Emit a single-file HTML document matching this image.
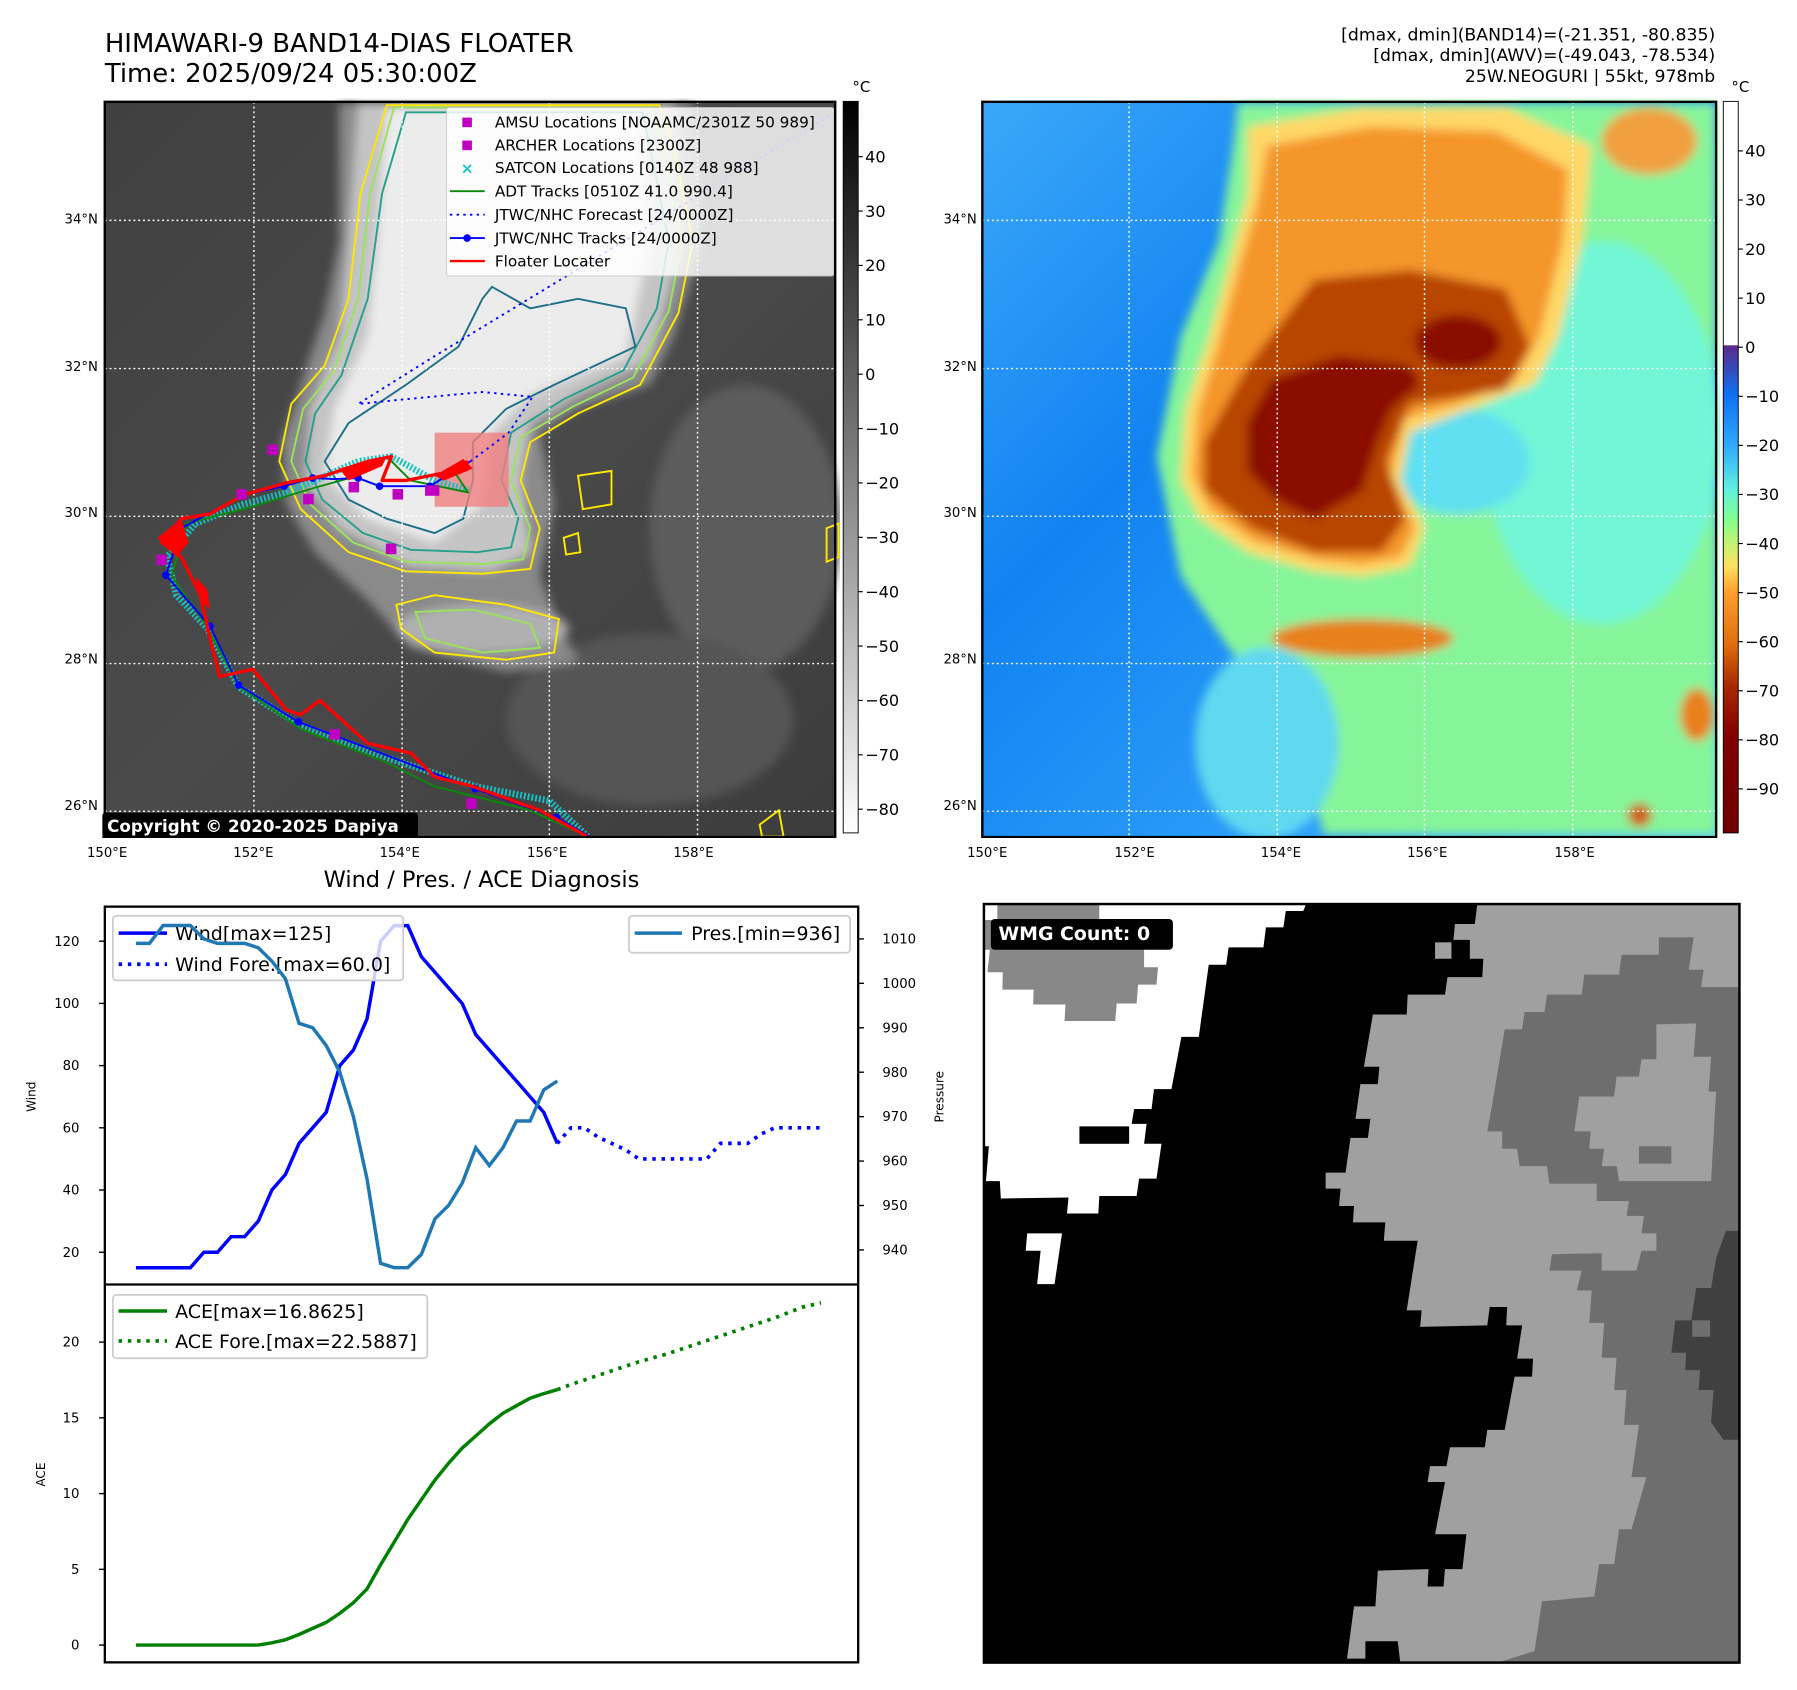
<!DOCTYPE html>
<html><head><meta charset="utf-8"><title>HIMAWARI-9 BAND14-DIAS FLOATER</title>
<style>html,body{margin:0;padding:0;background:#fff;}svg{display:block;font-family:"DejaVu Sans","Liberation Sans",sans-serif;}</style>
</head><body>
<svg id="root" width="1797" height="1690" viewBox="0 0 1560 1467" preserveAspectRatio="none" xmlns="http://www.w3.org/2000/svg">
<defs>
<filter id="blur8" x="-10%" y="-10%" width="120%" height="120%"><feGaussianBlur stdDeviation="10"/></filter>
<linearGradient id="grayBar" x1="0" y1="0" x2="0" y2="1"><stop offset="0" stop-color="#000"/><stop offset="1" stop-color="#fff"/></linearGradient>
<linearGradient id="jetBar" x1="0" y1="0" x2="0" y2="1">
<stop offset="0" stop-color="#fff"/><stop offset="0.333" stop-color="#fff"/><stop offset="0.334" stop-color="#5a2a8a"/>
<stop offset="0.37" stop-color="#3050c0"/><stop offset="0.40" stop-color="#1070f0"/><stop offset="0.47" stop-color="#30a8ff"/>
<stop offset="0.53" stop-color="#60f0e0"/><stop offset="0.57" stop-color="#80ff90"/><stop offset="0.61" stop-color="#d0f070"/>
<stop offset="0.635" stop-color="#ffe060"/><stop offset="0.67" stop-color="#ffa030"/><stop offset="0.74" stop-color="#e07010"/>
<stop offset="0.80" stop-color="#a82800"/><stop offset="0.87" stop-color="#800000"/><stop offset="1" stop-color="#700000"/></linearGradient>
<linearGradient id="blueBg" x1="0" y1="0" x2="1" y2="1"><stop offset="0" stop-color="#3aa8f8"/><stop offset="0.35" stop-color="#1282f2"/><stop offset="0.7" stop-color="#2c9ef8"/><stop offset="1" stop-color="#58cdf8"/></linearGradient>
<linearGradient id="grayBg" x1="0" y1="0" x2="1" y2="1"><stop offset="0" stop-color="#404040"/><stop offset="0.5" stop-color="#4a4a4a"/><stop offset="1" stop-color="#3c3c3c"/></linearGradient>
</defs>

<text x="91" y="45" font-size="22.5">HIMAWARI-9 BAND14-DIAS FLOATER</text>
<text x="91" y="71" font-size="22.5">Time: 2025/09/24 05:30:00Z</text>
<g font-size="15" text-anchor="end">
<text x="1489" y="35">[dmax, dmin](BAND14)=(-21.351, -80.835)</text>
<text x="1489" y="53">[dmax, dmin](AWV)=(-49.043, -78.534)</text>
<text x="1489" y="71">25W.NEOGURI | 55kt, 978mb</text>
</g>

<svg x="86.8" y="85.07" width="642.4" height="642.4" viewBox="0 0 1548 1548">
<rect x="10" y="8" width="1528" height="1538" fill="url(#grayBg)"/>
<g filter="url(#blur8)">
<ellipse cx="1350" cy="900" rx="200" ry="300" fill="#5c5c5c"/>
<ellipse cx="1150" cy="1300" rx="300" ry="180" fill="#555"/>
<polygon fill="#8a8a8a" points="500,10 1240,10 1260,300 1200,500 1150,600 1000,650 920,700 950,850 920,1000 960,1100 1000,1180 850,1200 650,1150 560,1050 450,950 390,850 380,720 420,600 470,450 500,300"/>
<polygon fill="#c4c4c4" points="540,10 1200,10 1220,300 1150,550 1000,620 900,680 880,800 900,950 820,990 650,980 500,900 430,800 440,650 500,500 520,300"/>
<polygon fill="#ececec" points="600,20 1130,20 1150,300 1100,540 900,620 820,700 800,850 700,930 560,880 470,790 490,650 560,500 580,300"/>
<ellipse cx="800" cy="1110" rx="180" ry="50" fill="#b0b0b0"/>
</g>
<g fill="none" stroke-width="4">
<polygon stroke="#ffe800" points="600,15 545,200 520,420 470,560 400,640 375,760 420,860 520,950 640,990 800,995 900,985 920,900 880,800 900,720 1000,660 1130,600 1210,450 1240,300 1200,100 1170,15"/>
<polygon stroke="#9be35a" points="615,20 565,200 540,420 490,570 425,650 400,760 440,850 530,930 640,970 800,975 885,965 900,900 860,800 880,710 990,645 1115,585 1190,445 1218,300 1180,100 1155,20"/>
<polygon stroke="#26a08c" points="640,30 590,200 560,420 505,580 450,660 430,760 465,840 550,910 650,945 790,950 860,940 875,880 840,800 860,700 970,630 1095,570 1165,440 1190,300 1150,100 1135,30"/>
<polygon stroke="#1d6f8a" points="470,760 520,680 640,600 750,520 800,420 820,395 900,440 1000,420 1100,440 1120,520 950,600 850,650 780,720 780,800 760,880 700,910 600,880 520,840"/>
<polygon stroke="#ffe800" points="620,1060 700,1040 850,1060 960,1090 950,1160 850,1175 700,1160 630,1110"/>
<polygon stroke="#9be35a" points="660,1075 780,1070 900,1100 920,1150 800,1160 680,1130"/>
<polygon stroke="#ffe800" points="1000,790 1070,780 1070,850 1010,860"/>
<polygon stroke="#ffe800" points="970,920 1000,910 1005,950 975,955"/>
<polygon stroke="#ffe800" points="1520,900 1545,890 1545,960 1520,970"/>
<polygon stroke="#ffe800" points="1380,1520 1420,1490 1430,1545 1385,1545"/>
</g>
<g stroke="#fff" stroke-width="3" stroke-dasharray="4,6" fill="none">
<line x1="322" y1="8" x2="322" y2="1546"/><line x1="632" y1="8" x2="632" y2="1546"/><line x1="940" y1="8" x2="940" y2="1546"/><line x1="1250" y1="8" x2="1250" y2="1546"/>
<line x1="10" y1="256" x2="1538" y2="256"/><line x1="10" y1="566" x2="1538" y2="566"/><line x1="10" y1="875" x2="1538" y2="875"/><line x1="10" y1="1183" x2="1538" y2="1183"/><line x1="10" y1="1492" x2="1538" y2="1492"/>
</g>
<rect x="700" y="700" width="155" height="155" fill="#f08080" opacity="0.8"/>
<g fill="none" stroke-linejoin="round">
<polyline stroke="#17c0c0" stroke-width="14" stroke-dasharray="4,4" points="1020,1545 940,1470 785,1440 600,1380 415,1310 290,1232 225,1110 160,1040 140,960 200,890 300,850 390,825 450,800 540,760 610,750 700,800 770,820"/>
<polyline stroke="#0a8a0a" stroke-width="4" points="1020,1545 900,1490 700,1440 600,1390 420,1320 290,1230 220,1100 150,1000 180,890 300,860 450,815 540,790 600,750 650,800 770,825 740,780"/>
<polyline stroke="#0000ff" stroke-width="4" points="1025,1545 955,1505 785,1445 600,1375 415,1305 290,1228 230,1105 138,998 170,900 300,830 385,812 445,795 490,797 540,795 585,812 690,812 775,760"/>
<g fill="#0000ff"><circle cx="955" cy="1505" r="8"/><circle cx="785" cy="1445" r="8"/><circle cx="415" cy="1305" r="8"/><circle cx="290" cy="1228" r="8"/><circle cx="230" cy="1105" r="8"/><circle cx="138" cy="998" r="8"/><circle cx="385" cy="812" r="8"/><circle cx="445" cy="795" r="8"/><circle cx="540" cy="795" r="8"/><circle cx="585" cy="812" r="8"/><circle cx="690" cy="812" r="8"/></g>
<polyline stroke="#0000ff" stroke-width="4" stroke-dasharray="5,9" points="775,760 855,700 905,625 800,615 640,630 540,640 700,540 980,370 1545,25"/>
<polyline stroke="#ff0000" stroke-width="7" points="1020,1545 920,1490 780,1440 700,1420 650,1370 560,1350 460,1260 420,1290 390,1280 320,1195 250,1210 230,1130 210,1040 170,960 130,930 170,880 230,870 300,830 390,805 470,790 560,760 610,750 590,800 640,800 740,780 770,760"/>
<polygon fill="#ff0000" points="120,920 170,880 185,930 160,960"/>
<polygon fill="#ff0000" points="200,1000 225,1030 230,1070 210,1050"/>
<polygon fill="#ff0000" points="700,790 760,755 780,775 720,800"/>
<polygon fill="#ff0000" points="500,775 600,750 590,770 520,800"/>
</g>
<g fill="#c000c0">
<rect x="350" y="725" width="22" height="22"/><rect x="285" y="818" width="22" height="22"/><rect x="425" y="828" width="22" height="22"/><rect x="520" y="803" width="22" height="22"/><rect x="612" y="818" width="22" height="22"/><rect x="680" y="810" width="30" height="22"/><rect x="598" y="932" width="22" height="22"/><rect x="118" y="955" width="22" height="22"/><rect x="766" y="1465" width="22" height="22"/><rect x="480" y="1320" width="22" height="22"/>
</g>
<g>
<rect x="725" y="20" width="810" height="352" fill="#fff" fill-opacity="0.82" stroke="#ccc" stroke-width="2" rx="5"/>
<g font-size="32" fill="#000">
<rect x="758" y="41" width="20" height="20" fill="#c000c0"/><text x="826" y="62">AMSU Locations [NOAAMC/2301Z 50 989]</text>
<rect x="758" y="89" width="20" height="20" fill="#c000c0"/><text x="826" y="110">ARCHER Locations [2300Z]</text>
<text x="768" y="158" fill="#17c0c0" text-anchor="middle" font-weight="bold">×</text><text x="826" y="157">SATCON Locations [0140Z 48 988]</text>
<line x1="732" y1="195" x2="805" y2="195" stroke="#0a8a0a" stroke-width="4"/><text x="826" y="206">ADT Tracks [0510Z 41.0 990.4]</text>
<line x1="732" y1="244" x2="805" y2="244" stroke="#0000ff" stroke-width="4" stroke-dasharray="5,9"/><text x="826" y="255">JTWC/NHC Forecast [24/0000Z]</text>
<line x1="732" y1="293" x2="805" y2="293" stroke="#0000ff" stroke-width="4"/><circle cx="768" cy="293" r="8" fill="#0000ff"/><text x="826" y="304">JTWC/NHC Tracks [24/0000Z]</text>
<line x1="732" y1="341" x2="805" y2="341" stroke="#ff0000" stroke-width="5"/><text x="826" y="352">Floater Locater</text>
</g></g>
<rect x="5" y="1495" width="660" height="57" fill="#000" rx="6"/>
<text x="15" y="1535" font-size="35" font-weight="bold" fill="#fff">Copyright © 2020-2025 Dapiya</text>
<rect x="10" y="8" width="1528" height="1538" fill="none" stroke="#000" stroke-width="5"/>
</svg>

<g font-size="11.5">
<g text-anchor="end"><text x="85" y="194">34°N</text><text x="85" y="322">32°N</text><text x="85" y="449">30°N</text><text x="85" y="576">28°N</text><text x="85" y="703">26°N</text></g>
<g text-anchor="middle"><text x="93" y="744">150°E</text><text x="220" y="744">152°E</text><text x="347" y="744">154°E</text><text x="475" y="744">156°E</text><text x="602" y="744">158°E</text></g>
</g>
<g>
<rect x="732" y="88" width="13" height="635" fill="url(#grayBar)" stroke="#000" stroke-width="0.8"/>
<text x="740" y="80" font-size="13">°C</text>
<g id="cbLeft" font-size="14"></g>
</g>

<svg x="850.7" y="85.07" width="642.4" height="642.4" viewBox="0 0 1548 1548">
<rect x="5" y="8" width="1535" height="1538" fill="url(#blueBg)"/>
<g filter="url(#blur8)">
<polygon fill="#86f59a" points="540,10 1540,10 1540,1540 720,1540 650,1300 520,1150 420,1000 370,750 420,500 500,300 530,100"/>
<ellipse cx="1300" cy="700" rx="250" ry="400" fill="#72f6d6"/>
<ellipse cx="1000" cy="760" rx="150" ry="110" fill="#60e0f0"/>
<ellipse cx="600" cy="1350" rx="150" ry="200" fill="#60d8f0"/>
<polygon fill="#ffd868" points="560,60 800,20 1100,20 1280,100 1260,300 1210,500 1160,600 1000,660 900,700 880,800 930,900 900,980 800,1000 700,990 560,950 460,880 420,800 430,650 480,500 520,350 560,200"/>
<polygon fill="#f4962a" points="600,100 820,60 1080,70 1230,150 1220,300 1170,500 1120,590 1000,640 890,670 860,790 910,900 880,960 800,975 700,965 570,925 480,860 445,790 455,660 500,510 540,360 580,220"/>
<polygon fill="#b84400" points="470,720 560,560 700,380 900,360 1100,400 1150,520 1100,610 900,640 850,760 890,880 840,950 700,950 570,900 470,820"/>
<polygon fill="#8a0a00" points="610,590 750,540 900,560 920,600 860,650 830,720 800,820 700,880 620,840 560,780 560,680"/>
<ellipse cx="1000" cy="510" rx="90" ry="55" fill="#8a0a00"/>
<ellipse cx="800" cy="1130" rx="190" ry="40" fill="#e8801c"/>
<ellipse cx="1500" cy="1290" rx="35" ry="55" fill="#e8801c"/>
<ellipse cx="1380" cy="1500" rx="25" ry="25" fill="#d06010"/>
<ellipse cx="1400" cy="90" rx="100" ry="70" fill="#f0a040"/>
</g>
<g stroke="#fff" stroke-width="3" stroke-dasharray="4,6" fill="none">
<line x1="312" y1="8" x2="312" y2="1546"/><line x1="622" y1="8" x2="622" y2="1546"/><line x1="930" y1="8" x2="930" y2="1546"/><line x1="1240" y1="8" x2="1240" y2="1546"/>
<line x1="5" y1="256" x2="1540" y2="256"/><line x1="5" y1="566" x2="1540" y2="566"/><line x1="5" y1="875" x2="1540" y2="875"/><line x1="5" y1="1183" x2="1540" y2="1183"/><line x1="5" y1="1492" x2="1540" y2="1492"/>
</g>
<rect x="5" y="8" width="1535" height="1538" fill="none" stroke="#000" stroke-width="5"/>
</svg>
<g font-size="11.5">
<g text-anchor="end"><text x="848" y="194">34°N</text><text x="848" y="322">32°N</text><text x="848" y="449">30°N</text><text x="848" y="576">28°N</text><text x="848" y="703">26°N</text></g>
<g text-anchor="middle"><text x="857" y="744">150°E</text><text x="985" y="744">152°E</text><text x="1112" y="744">154°E</text><text x="1239" y="744">156°E</text><text x="1367" y="744">158°E</text></g>
</g>
<g>
<rect x="1496" y="88" width="13" height="635" fill="url(#jetBar)" stroke="#000" stroke-width="0.8"/>
<text x="1503" y="80" font-size="13">°C</text>
<g id="cbRight" font-size="14"></g>
</g>

<text x="418" y="770" font-size="19.5" text-anchor="middle">Wind / Pres. / ACE Diagnosis</text>
<g id="chart"></g>

<svg x="850.7" y="781.3" width="668.4" height="668.4" viewBox="0 0 1548 1548">
<rect x="8" y="8" width="1519" height="1525" fill="#a0a0a0"/>
<polygon fill="#6e6e6e" points="1365,75 1435,75 1425,140 1455,140 1450,175 1527,175 1527,1533 1040,1533 1115,1510 1130,1410 1235,1400 1245,1335 1275,1335 1285,1265 1310,1265 1340,1160 1310,1160 1325,1055 1295,1055 1300,985 1275,985 1280,920 1250,920 1255,850 1225,850 1230,785 1200,785 1210,745 1145,745 1150,712 1250,710 1250,745 1320,745 1330,705 1360,705 1360,670 1330,670 1335,635 1300,635 1305,605 1240,605 1240,570 1145,570 1140,535 1085,535 1080,500 1050,500 1050,465 1020,465 1030,410 1055,260 1090,260 1095,225 1135,225 1140,190 1210,190 1215,150 1285,150 1290,110 1365,110"/>
<polygon fill="#a0a0a0" points="1360,250 1440,248 1435,315 1470,315 1465,385 1480,385 1470,565 1285,565 1280,535 1250,535 1255,500 1225,500 1228,465 1195,465 1205,395 1275,395 1280,355 1325,355 1330,320 1360,320"/>
<rect x="1325" y="495" width="65" height="35" fill="#6e6e6e"/>
<polygon fill="#404040" points="1500,665 1527,665 1527,1085 1495,1085 1470,1050 1475,985 1445,985 1448,945 1418,945 1420,910 1390,910 1398,845 1430,845 1440,780 1470,780 1480,720"/>
<rect x="1432" y="845" width="36" height="33" fill="#6e6e6e"/>
<polygon fill="#000" points="8,8 1000,8 995,48 955,48 952,80 985,80 985,118 1012,118 1010,155 940,155 935,190 860,190 858,230 790,230 772,335 803,335 800,370 765,370 755,440 785,440 780,478 745,478 735,548 695,548 695,580 725,580 722,615 752,615 750,648 815,648 812,685 880,685 858,825 888,825 885,858 1020,855 1025,818 1060,818 1058,855 1090,855 1080,922 1112,922 1110,958 1075,958 1055,1065 1020,1065 1015,1100 945,1100 938,1138 905,1138 900,1170 935,1170 915,1275 978,1275 970,1345 935,1345 932,1380 900,1380 902,1345 800,1348 795,1420 752,1420 738,1525 775,1525 775,1490 840,1490 845,1533 8,1533"/>
<rect x="915" y="85" width="33" height="33" fill="#a0a0a0"/>
<polygon fill="#fff" points="8,10 655,10 650,22 615,22 610,55 575,55 570,95 500,95 495,130 460,130 440,275 405,275 385,380 350,380 345,420 310,420 305,450 335,450 330,490 365,490 355,560 320,560 315,595 240,595 238,630 175,630 178,598 42,600 40,565 12,565 18,495 8,495"/>
<rect x="200" y="455" width="100" height="35" fill="#000"/>
<polygon fill="#fff" points="95,670 165,670 150,772 115,772 122,705 92,705"/>
<polygon fill="#888" points="35,10 240,10 240,65 330,100 330,135 358,135 355,170 318,170 315,208 275,208 272,243 170,243 172,210 107,210 108,180 45,180 46,145 15,145 20,100 8,100 8,40 35,40"/>
<rect x="22" y="38" width="366" height="62" rx="8" fill="#000"/>
<text x="37" y="80" font-size="38" font-weight="bold" fill="#fff">WMG Count: 0</text>
<rect x="8" y="8" width="1519" height="1525" fill="none" stroke="#000" stroke-width="5"/>
</svg>

<script>
// ---- Diagnosis chart data ----
const windObs = [15,15,15,15,15,20,20,25,25,30,40,45,55,60,65,80,85,95,120,125,125,115,110,105,100,90,85,80,75,70,65,55];
const presObs = [1009,1009,1013,1013,1013,1010,1009,1009,1009,1008,1005,1001,991,990,986,980,970,956,937,936,936,939,947,950,955,963,959,963,969,969,976,978];
const aceObs = [0,0,0,0,0,0,0,0,0,0,0.15,0.35,0.7,1.1,1.5,2.1,2.8,3.7,5.3,6.8,8.3,9.6,10.9,12.0,13.0,13.8,14.6,15.3,15.8,16.3,16.6,16.86];
const fcIdx = [31,32,33,34,35,36,37,38,39,40,41,42,43,44,45,46,47,48,49,50.4];
const windFc = [55,60,60,57,55,53,50,50,50,50,50,50,55,55,55,58,60,60,60,60];
const aceFc = [16.86,17.2,17.5,17.8,18.1,18.4,18.7,18.95,19.2,19.5,19.8,20.1,20.4,20.7,21.0,21.3,21.6,21.95,22.3,22.59];
const windTicks = [20,40,60,80,100,120];
const presTicks = [940,950,960,970,980,990,1000,1010];
const aceTicks = [0,5,10,15,20];
const cbLeftTicks = [40,30,20,10,0,-10,-20,-30,-40,-50,-60,-70,-80];
const cbRightTicks = [40,30,20,10,0,-10,-20,-30,-40,-50,-60,-70,-80,-90];

const NS = 'http://www.w3.org/2000/svg';
const X0 = 91, X1 = 745, TOP = 787, MID = 1115, BOT = 1443;
const xS = i => 118 + i * 11.8;
const yW = w => 1087 - (w - 20) * 2.7;
const yP = p => 1085 - (p - 940) * 3.857;
const yA = a => 1428 - a * 13.15;
const yCbL = v => 136 + (40 - v) * 4.72;
const yCbR = v => 131 + (40 - v) * 4.26;

function mk(tag, attrs, parent) {
  const e = document.createElementNS(NS, tag);
  for (const k in attrs) e.setAttribute(k, attrs[k]);
  parent.appendChild(e);
  return e;
}
function pts(xs, ys) { return xs.map((x, i) => x.toFixed(1) + ',' + ys[i].toFixed(1)).join(' '); }
const chart = document.getElementById('chart');
const obsX = windObs.map((_, i) => xS(i));

let fr = mk('rect', {x: X0, y: TOP, width: X1 - X0, height: MID - TOP, fill: '#fff'}, chart);


fr = mk('rect', {x: X0, y: MID, width: X1 - X0, height: BOT - MID, fill: '#fff'}, chart);



windTicks.forEach(v => {
  const y = yW(v);
  mk('line', {x1: X0 - 5, y1: y, x2: X0, y2: y, stroke: '#000', 'stroke-width': 1.2}, chart);
  const t = mk('text', {x: X0 - 22, y: y + 4, 'font-size': 11.5, 'text-anchor': 'end'}, chart);
  t.textContent = v;
  
  
});
presTicks.forEach(v => {
  const y = yP(v);
  mk('line', {x1: X1, y1: y, x2: X1 + 5, y2: y, stroke: '#000', 'stroke-width': 1.2}, chart);
  const t = mk('text', {x: X1 + 21, y: y + 4, 'font-size': 11.5}, chart);
  t.textContent = v;
  
  
});
aceTicks.forEach(v => {
  const y = yA(v);
  mk('line', {x1: X0 - 5, y1: y, x2: X0, y2: y, stroke: '#000', 'stroke-width': 1.2}, chart);
  const t = mk('text', {x: X0 - 22, y: y + 4, 'font-size': 11.5, 'text-anchor': 'end'}, chart);
  t.textContent = v;
  
  
});
let lab = mk('text', {x: 31, y: 952, 'font-size': 10.5, 'text-anchor': 'middle', transform: 'rotate(-90 31 952)'}, chart);
lab.textContent = 'Wind';


lab = mk('text', {x: 819, y: 952, 'font-size': 10.5, 'text-anchor': 'middle', transform: 'rotate(-90 819 952)'}, chart);
lab.textContent = 'Pressure';


lab = mk('text', {x: 39, y: 1280, 'font-size': 10.5, 'text-anchor': 'middle', transform: 'rotate(-90 39 1280)'}, chart);
lab.textContent = 'ACE';



let ln = mk('polyline', {points: pts(obsX, windObs.map(yW)), fill: 'none', stroke: '#0000ff', 'stroke-width': 3}, chart);


ln = mk('polyline', {points: pts(fcIdx.map(xS), windFc.map(yW)), fill: 'none', stroke: '#0000ff', 'stroke-width': 3.2, 'stroke-dasharray': '3,5'}, chart);



const wl = mk('g', {}, chart);


mk('rect', {x: 98, y: 795, width: 252, height: 56, rx: 3, fill: '#fff', 'fill-opacity': 0.8, stroke: '#ccc', 'stroke-width': 1.5}, wl);
mk('line', {x1: 103, y1: 810, x2: 145, y2: 810, stroke: '#0000ff', 'stroke-width': 3}, wl);
mk('line', {x1: 103, y1: 837, x2: 145, y2: 837, stroke: '#0000ff', 'stroke-width': 3.2, 'stroke-dasharray': '3,5'}, wl);
let tt = mk('text', {x: 152, y: 816, 'font-size': 16.5}, wl); tt.textContent = 'Wind[max=125]';
tt = mk('text', {x: 152, y: 843, 'font-size': 16.5}, wl); tt.textContent = 'Wind Fore.[max=60.0]';

ln = mk('polyline', {points: pts(obsX, presObs.map(yP)), fill: 'none', stroke: '#1f77b4', 'stroke-width': 3}, chart);


const pl = mk('g', {}, chart);


mk('rect', {x: 546, y: 795, width: 192, height: 32, rx: 3, fill: '#fff', 'fill-opacity': 0.8, stroke: '#ccc', 'stroke-width': 1.5}, pl);
mk('line', {x1: 551, y1: 810, x2: 592, y2: 810, stroke: '#1f77b4', 'stroke-width': 3}, pl);
tt = mk('text', {x: 600, y: 816, 'font-size': 16.5}, pl); tt.textContent = 'Pres.[min=936]';

ln = mk('polyline', {points: pts(obsX, aceObs.map(yA)), fill: 'none', stroke: '#008000', 'stroke-width': 3}, chart);


ln = mk('polyline', {points: pts(fcIdx.map(xS), aceFc.map(yA)), fill: 'none', stroke: '#008000', 'stroke-width': 3.2, 'stroke-dasharray': '3,5'}, chart);


const al = mk('g', {}, chart);


mk('rect', {x: 98, y: 1124, width: 273, height: 55, rx: 3, fill: '#fff', 'fill-opacity': 0.8, stroke: '#ccc', 'stroke-width': 1.5}, al);
mk('line', {x1: 103, y1: 1138, x2: 145, y2: 1138, stroke: '#008000', 'stroke-width': 3}, al);
mk('line', {x1: 103, y1: 1164, x2: 145, y2: 1164, stroke: '#008000', 'stroke-width': 3.2, 'stroke-dasharray': '3,5'}, al);
tt = mk('text', {x: 152, y: 1144, 'font-size': 16.5}, al); tt.textContent = 'ACE[max=16.8625]';
tt = mk('text', {x: 152, y: 1170, 'font-size': 16.5}, al); tt.textContent = 'ACE Fore.[max=22.5887]';

mk('rect', {x: X0, y: TOP, width: X1 - X0, height: BOT - TOP, fill: 'none', stroke: '#000', 'stroke-width': 2}, chart);
mk('line', {x1: X0, y1: MID, x2: X1, y2: MID, stroke: '#000', 'stroke-width': 2}, chart);

const cbl = document.getElementById('cbLeft');
cbLeftTicks.forEach(v => {
  const y = yCbL(v);
  mk('line', {x1: 745, y1: y, x2: 749, y2: y, stroke: '#000', 'stroke-width': 1}, cbl);
  const t = mk('text', {x: 751, y: y + 5}, cbl);
  t.textContent = v < 0 ? '\u2212' + (-v) : v;
  
  
});
const cbr = document.getElementById('cbRight');
cbRightTicks.forEach(v => {
  const y = yCbR(v);
  mk('line', {x1: 1509, y1: y, x2: 1513, y2: y, stroke: '#000', 'stroke-width': 1}, cbr);
  const t = mk('text', {x: 1515, y: y + 5}, cbr);
  t.textContent = v < 0 ? '\u2212' + (-v) : v;
  
  
});
</script>
</body></html>
